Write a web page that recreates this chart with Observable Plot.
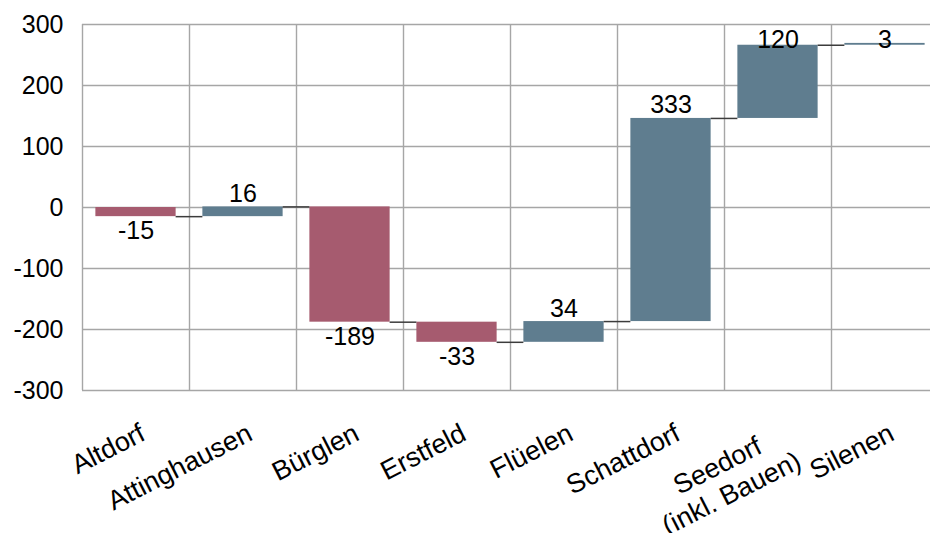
<!DOCTYPE html>
<html>
<head>
<meta charset="utf-8">
<script src="https://cdn.jsdelivr.net/npm/d3@7"></script>
<script src="https://cdn.jsdelivr.net/npm/@observablehq/plot@0.6"></script>
<style>
  html, body { margin: 0; padding: 0; background: #fff; overflow: hidden; }
</style>
</head>
<body>
<div id="chart"></div>
<script>
// Change per municipality (waterfall steps)
const municipalities = ["Altdorf", "Attinghausen", "Bürglen", "Erstfeld", "Flüelen", "Schattdorf", "Seedorf\n(inkl. Bauen)", "Silenen"];
const changes = [-15, 16, -189, -33, 34, 333, 120, 3];
const yTicks = [-300, -200, -100, 0, 100, 200, 300];

const negColor = "#a65b6f";
const posColor = "#5f7d8f";
const gridColor = "#a6a6a6";
const pad = 0.125;          // gap on each side of a bar, as a share of the slot
const labelCeiling = 254;   // value labels near the top stay inside the frame

let running = 0;
const steps = municipalities.map((name, i) => {
  const start = running;
  running += changes[i];
  return { i, name, change: changes[i], start, end: running };
});
const n = steps.length;

const chart = Plot.plot({
  width: 930,
  height: 533,
  marginLeft: 82,
  marginRight: 0,
  marginTop: 24,
  marginBottom: 143,
  x: { domain: [0, n], range: [82, 938], axis: null },
  y: { domain: [-300, 300], axis: null },
  style: {
    fontFamily: "'Liberation Sans', Arial, sans-serif",
    fontSize: "25px",
    color: "#000",
    background: "#fff",
    overflow: "hidden"
  },
  marks: [
    // horizontal grid
    Plot.ruleY(yTicks, { y: d => d, x1: 0, x2: n, stroke: gridColor, strokeWidth: 1.4 }),
    // vertical grid at slot boundaries
    Plot.ruleX(d3.range(0, n + 1), { x: d => d, y1: -300, y2: 300, stroke: gridColor, strokeWidth: 1.4 }),
    // waterfall bars
    Plot.rectY(steps, {
      x1: d => d.i + pad,
      x2: d => d.i + 1 - pad,
      y1: "start",
      y2: "end",
      fill: d => (d.change < 0 ? negColor : posColor)
    }),
    // connectors between consecutive bars
    Plot.ruleY(steps.slice(0, -1), {
      y: "end",
      x1: d => d.i + 1 - pad,
      x2: d => d.i + 1 + pad,
      stroke: "#3c3c3c",
      strokeWidth: 1.5
    }),
    // value labels
    Plot.text(steps.filter(d => d.change >= 0), {
      x: d => d.i + 0.5,
      y: d => Math.min(d.end, labelCeiling),
      text: d => String(d.change),
      lineAnchor: "bottom",
      dy: -5,
      fill: "#000"
    }),
    Plot.text(steps.filter(d => d.change < 0), {
      x: d => d.i + 0.5,
      y: "end",
      text: d => String(d.change),
      lineAnchor: "top",
      dy: 5,
      fill: "#000"
    }),
    // y tick labels
    Plot.text(yTicks, {
      y: d => d,
      frameAnchor: "left",
      text: d => String(d),
      textAnchor: "end",
      lineAnchor: "middle",
      dx: -19,
      fill: "#000"
    }),
    // category labels
    Plot.text(steps, {
      x: d => d.i + 0.5,
      frameAnchor: "bottom",
      text: "name",
      rotate: -27,
      textAnchor: "end",
      lineAnchor: "top",
      lineHeight: 1.15,
      fontSize: 27,
      dx: 1,
      dy: 29,
      fill: "#000"
    })
  ]
});

document.getElementById("chart").appendChild(chart);

// Multi-line category labels: centre the lines within their block
chart.querySelectorAll("text").forEach(t => {
  const spans = t.querySelectorAll("tspan");
  if (spans.length > 1) {
    const w = Math.max(...Array.from(spans, s => s.getComputedTextLength()));
    t.setAttribute("text-anchor", "middle");
    spans.forEach(s => s.setAttribute("x", -w / 2));
  }
});
</script>
</body>
</html>
